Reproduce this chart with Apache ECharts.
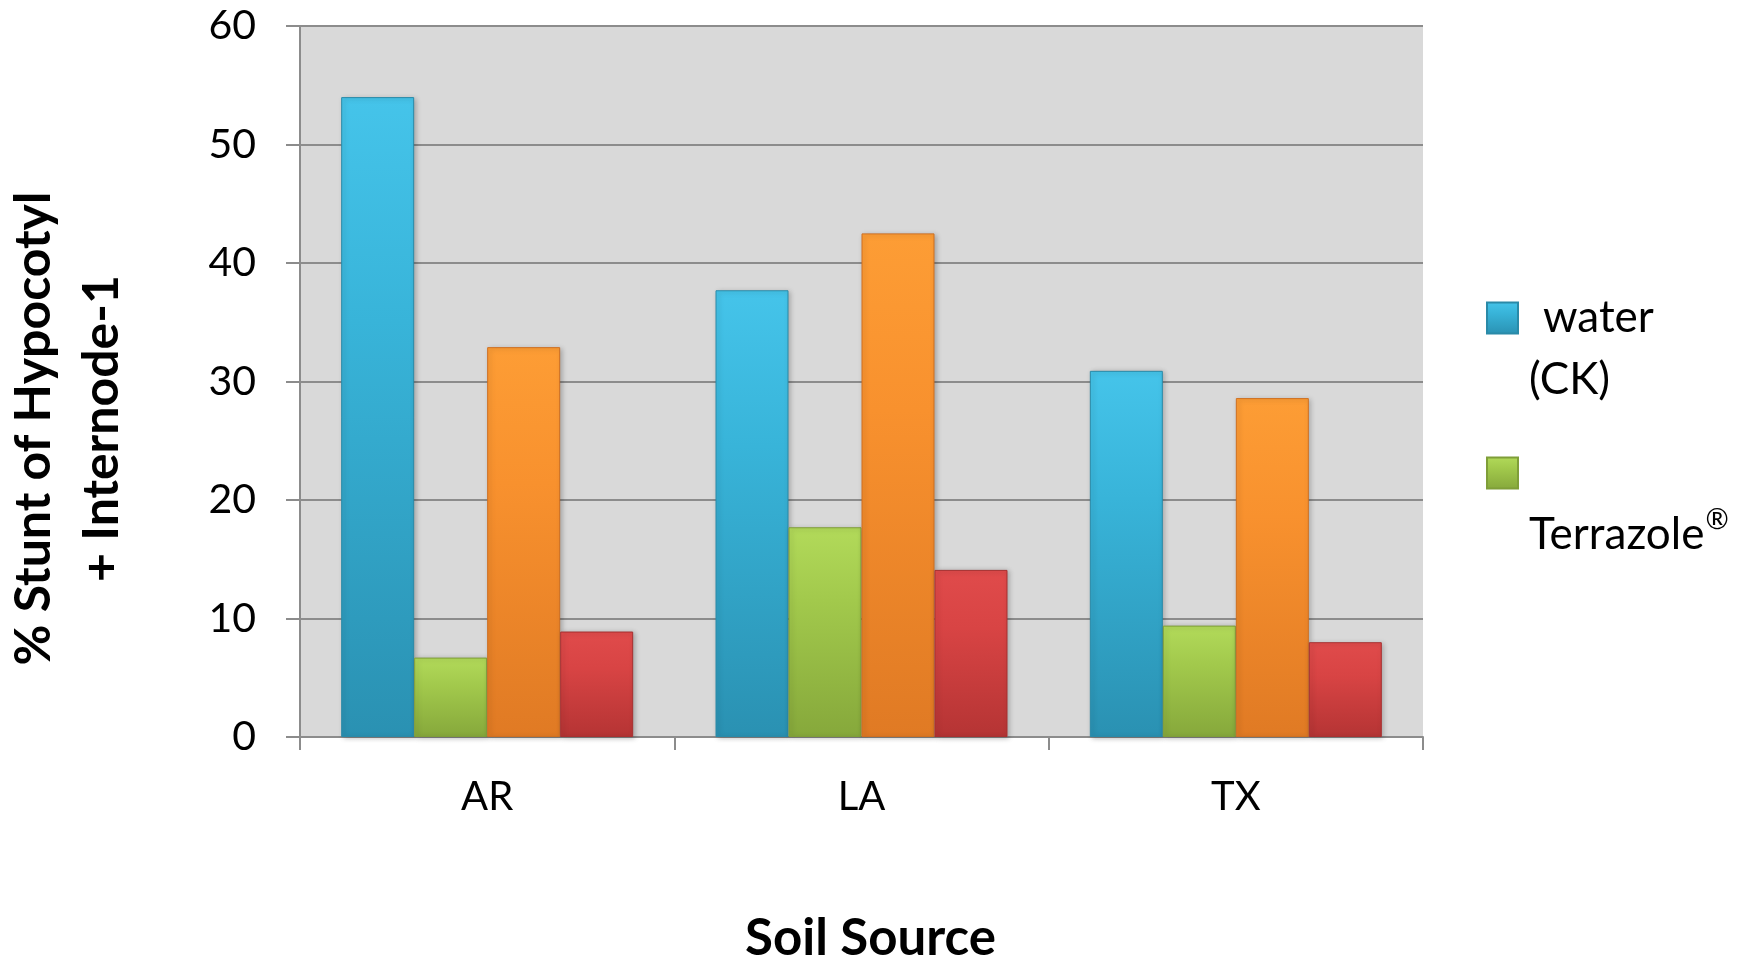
<!DOCTYPE html>
<html>
<head>
<meta charset="utf-8">
<script src="https://cdn.jsdelivr.net/npm/echarts@6/dist/echarts.min.js"></script>
<style>
  html, body { margin: 0; padding: 0; background: #ffffff; }
  #chart { width: 1760px; height: 961px; }
</style>
</head>
<body>
<div id="chart"></div>
<script>
// Soil sources on the category axis
const categories = ['AR', 'LA', 'TX'];
// % stunt of hypocotyl + internode-1 per treatment
const waterCK    = [54.0, 37.7, 30.9];
const terrazole  = [6.7, 17.7, 9.4];
const treatment3 = [32.9, 42.5, 28.6];
const treatment4 = [8.9, 14.1, 8.0];
const legendNames = ['water (CK)', 'Terrazole®'];
const yTicks = { min: 0, max: 60, step: 10 };

// vertical shading for the bevelled bars
function shade(top, mid, bottom) {
  return new echarts.graphic.LinearGradient(0, 0, 0, 1, [
    { offset: 0, color: top },
    { offset: 0.35, color: mid },
    { offset: 1, color: bottom }
  ]);
}

function barSeries(name, data, top, mid, bottom, border) {
  return {
    name: name,
    type: 'bar',
    data: data,
    barGap: '0%',
    barCategoryGap: '22%',
    itemStyle: {
      color: shade(top, mid, bottom),
      borderColor: border,
      borderWidth: 1,
      shadowBlur: 5,
      shadowColor: 'rgba(0,0,0,0.25)',
      shadowOffsetX: 2,
      shadowOffsetY: 1
    }
  };
}

const chart = echarts.init(document.getElementById('chart'), null, { renderer: 'canvas' });

const gridColor = '#8c8c8c';

chart.setOption({
  backgroundColor: '#ffffff',
  animation: false,
  grid: {
    left: 300, top: 26, right: 337, bottom: 224,
    outerBoundsMode: 'none',
    containLabel: false,
    show: true, backgroundColor: '#d9d9d9', borderWidth: 0
  },
  legend: {
    data: legendNames,
    orient: 'vertical',
    left: 1481,
    top: 220,
    itemWidth: 31,
    itemHeight: 31,
    itemGap: -31,
    icon: 'rect',
    selectedMode: false,
    formatter: function (name) {
      if (name === 'water (CK)') return '\n{w|water}\n{c|(CK)}';
      return '\n\n{c|Terrazole}{r|®}';
    },
    textStyle: {
      fontFamily: 'Lato',
      fontSize: 44,
      lineHeight: 62,
      color: '#000000',
      rich: {
        w: { fontFamily: 'Lato', fontSize: 44, lineHeight: 62, padding: [0, 0, 0, 20] },
        c: { fontFamily: 'Lato', fontSize: 44, lineHeight: 62, padding: [0, 0, 0, 6] },
        r: { fontFamily: 'Lato', fontSize: 28, lineHeight: 62, verticalAlign: 'top', padding: [2, 0, 0, 1] }
      }
    }
  },
  xAxis: {
    type: 'category',
    data: categories,
    name: 'Soil Source',
    nameLocation: 'middle',
    nameGap: 176,
    nameTextStyle: {
      fontFamily: 'Lato', fontWeight: 'bold', fontSize: 51, color: '#000000',
      padding: [0, 0, 0, 18]
    },
    axisLine: { show: true, lineStyle: { color: gridColor, width: 2 } },
    axisTick: { show: true, length: 13, lineStyle: { color: gridColor, width: 2 } },
    axisLabel: { fontFamily: 'Lato', fontSize: 40, color: '#000000', margin: 40 },
    splitLine: { show: false }
  },
  yAxis: {
    type: 'value',
    min: yTicks.min,
    max: yTicks.max,
    interval: yTicks.step,
    name: '% Stunt of Hypocotyl\n+ Internode-1',
    nameLocation: 'middle',
    nameRotate: 90,
    nameGap: 164,
    nameTextStyle: {
      fontFamily: 'Lato', fontWeight: 'bold', fontSize: 50, lineHeight: 68,
      color: '#000000', align: 'center', padding: [0, 94, 0, 0]
    },
    axisLine: { show: true, lineStyle: { color: gridColor, width: 2 } },
    axisTick: { show: true, length: 14, lineStyle: { color: gridColor, width: 2 } },
    axisLabel: { fontFamily: 'Lato', fontSize: 41, color: '#000000', margin: 44 },
    splitLine: { show: true, lineStyle: { color: gridColor, width: 2 } }
  },
  series: [
    barSeries(legendNames[0], waterCK, '#45c4ea', '#38b4d9', '#2a91b2', '#2a8aa8'),
    barSeries(legendNames[1], terrazole, '#b2da5a', '#a2c94c', '#86a83b', '#7f9e38'),
    barSeries(undefined, treatment3, '#fd9d35', '#f8912e', '#e07a24', '#cf6f20'),
    barSeries(undefined, treatment4, '#e04b4b', '#d84444', '#b53434', '#a83030')
  ]
});
</script>
</body>
</html>
